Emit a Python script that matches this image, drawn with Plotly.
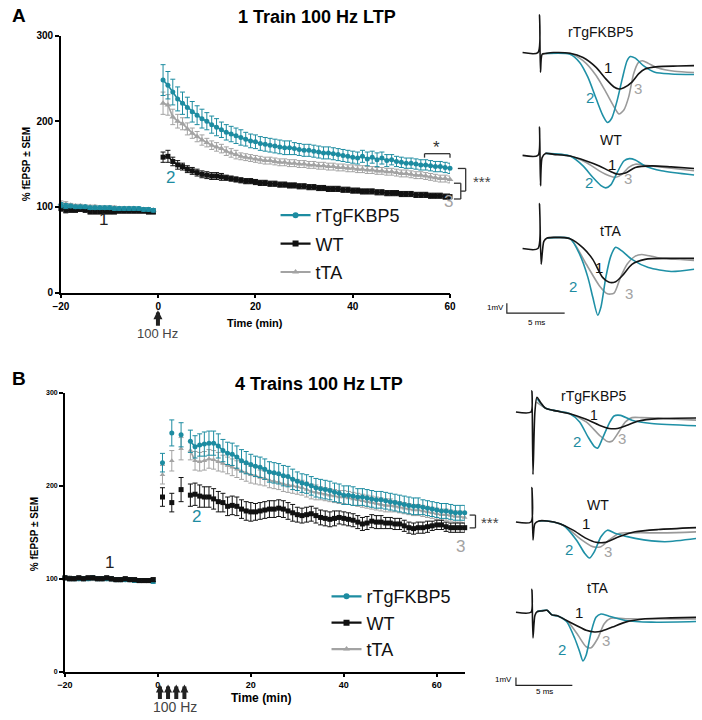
import plotly.graph_objects as go

W, H = 702, 720
def px(x): return x / W
def py(y): return 1 - y / H

TEAL = '#1d8ca1'
GREY = '#a3a3a3'
BLACK = '#111111'
FONT = 'Liberation Sans, Arial, sans-serif'

# ---------------- Panel A: 1 train 100 Hz LTP (time course) ----------------
a_base_t = list(range(-20, 0))
a_base_rtg = [102,101,101,100,100,100,99,99,99,99,99,98,98,98,98,98,98,97,97,96]
a_base_wt  = [98,96,96,96,97,96,94,94,94,94,94,94,95,95,95,95,95,95,94,94]
a_base_tta = [104,103,102,101,101,100,100,100,99,99,99,99,98,98,98,98,97,97,97,96]
a_base_err = [3,3,2,2,2,2,2,2,2,2,2,2,2,2,2,2,2,2,2,2]

a_post_t = list(range(1, 61))
a_post_rtg = [248,242,234,226,221,216,211,207,203,200,
              196,193,190,187,185,183,181,179,177,176,
              174,173,172,171,170,169,169,168,167,166,
              166,165,164,163,163,162,161,160,159,158,
              157,159,156,158,155,157,154,155,153,152,
              151,151,150,149,149,148,147,147,146,145]
a_post_rtg_err = [18,16,15,14,13,12,12,11,11,10,
                  10,10,9,9,9,9,9,8,8,8,
                  8,8,8,8,8,8,8,7,7,7,
                  7,7,7,7,7,7,7,7,7,7,
                  7,7,8,7,8,7,7,6,6,6,
                  6,6,6,6,6,6,6,6,6,6]
a_post_tta = [221,219,205,200,197,191,186,182,178,175,
              172,170,168,165,163,161,159,158,157,156,
              155,154,154,153,152,152,151,151,150,150,
              149,149,148,148,147,147,146,146,145,145,
              144,144,143,143,142,142,141,141,140,139,
              139,138,137,137,136,135,134,133,133,132]
a_post_tta_err = [13,12,9,8,7,7,6,6,6,5,
                  5,5,5,5,5,5,4,4,4,4,
                  4,4,4,4,4,4,4,4,4,4,
                  4,4,4,4,4,4,4,4,4,4,
                  4,4,4,4,4,4,4,4,4,4,
                  4,4,4,4,4,4,4,4,4,4]
a_post_wt = [158,159,153,149,147,144,142,140,138,137,
             136,136,135,134,133,132,131,130,130,129,
             128,128,127,127,126,126,125,125,124,124,
             123,123,122,122,121,121,121,120,120,119,
             119,118,118,118,117,117,116,116,116,115,
             115,115,114,114,114,113,113,113,112,112]
a_post_wt_err = [6,7,5,5,4,4,4,4,4,4,
                 4,4,4,3,3,3,3,3,3,3,
                 3,3,3,3,3,3,3,3,3,3,
                 3,3,3,3,3,3,3,3,3,3,
                 3,3,3,3,3,3,3,3,3,3,
                 3,3,3,3,3,3,3,3,3,3]

# ---------------- Panel B: 4 trains 100 Hz LTP (time course) ----------------
b_base_t = list(range(-20, 0))
b_base_rtg = [101,100,100,100,100,100,101,100,100,100,100,99,99,99,99,98,98,98,98,97]
b_base_wt  = [101,100,100,101,100,101,101,100,100,101,100,99,99,100,99,99,98,98,98,99]
b_base_tta = [101,101,100,100,100,100,100,100,100,100,99,99,99,99,99,98,98,98,98,98]
b_base_err = [2,2,2,2,2,2,2,2,2,2,2,2,2,2,2,2,2,2,2,2]

b_early_t = [1, 3, 5]
b_early_rtg = [225, 257, 255]
b_early_rtg_err = [10, 14, 13]
b_early_wt = [188, 182, 196]
b_early_wt_err = [10, 10, 13]
b_early_tta = [212, 227, 240]
b_early_tta_err = [10, 11, 12]

b_post_t = list(range(7, 67))
b_post_rtg = [248,242,244,245,246,246,243,238,235,234,
              231,227,225,223,221,220,218,215,214,213,
              211,210,207,205,203,202,200,198,197,196,
              195,193,192,190,190,189,188,188,187,186,
              185,185,184,183,182,181,180,179,178,178,
              177,176,175,174,173,173,172,171,171,171]
b_post_rtg_err = [12,12,12,13,13,13,13,12,12,12,
                  12,12,12,11,11,11,11,11,11,11,
                  11,11,11,10,10,10,10,10,10,10,
                  10,10,10,10,10,10,9,9,9,9,
                  9,9,9,9,9,9,9,9,9,9,
                  8,8,8,8,8,8,8,8,8,8]
b_post_tta = [238,227,226,227,229,228,226,224,222,220,
              218,216,214,212,211,209,208,206,205,204,
              202,201,200,199,198,196,194,193,192,191,
              190,189,188,188,187,186,185,184,183,182,
              181,180,179,179,178,177,176,175,174,174,
              173,172,171,170,169,169,168,167,167,166]
b_post_tta_err = [10,10,10,10,10,10,10,9,9,9,
                  9,9,9,9,9,8,8,8,8,8,
                  8,8,8,8,8,8,8,8,7,7,
                  7,7,7,7,7,7,7,7,7,7,
                  7,7,7,7,6,6,6,6,6,6,
                  6,6,6,6,6,6,6,6,6,6]
b_post_wt = [190,191,189,188,188,186,183,182,178,179,
             178,175,173,172,172,173,174,175,175,176,
             175,173,171,169,168,169,170,168,166,165,
             164,165,166,165,164,163,161,159,160,162,
             161,161,160,160,159,159,157,155,154,155,
             155,156,157,158,158,156,155,155,155,155]
b_post_wt_err = [12,12,12,11,11,11,11,10,10,10,
                 10,10,10,10,9,9,9,9,9,9,
                 9,9,9,8,8,8,8,8,8,8,
                 8,8,7,7,7,7,7,7,7,7,
                 7,7,6,6,6,6,6,6,6,6,
                 6,6,5,5,5,5,5,5,5,5]

# ---------------- Example fEPSP traces (ms, mV) ----------------
# Panel A
wA_rtg_1_t = [0,1.33,1.47,1.55,1.69,1.98,2.68,4.10,5.23,6.36,7.20,7.91,8.33,8.76,9.46,10.03,10.59,11.72,13.42,14.83]
wA_rtg_1_v = [0,0,3.83,-2.0,-0.17,-0.1,0,-0.07,-0.5,-1.5,-2.67,-3.5,-3.7,-3.57,-3.0,-2.17,-1.67,-1.43,-1.37,-1.33]
wA_rtg_2_t = [1.98,4.10,4.94,5.65,6.36,6.92,7.34,7.71,8.19,8.62,9.04,9.32,9.75,10.45,11.44,12.85,14.83]
wA_rtg_2_v = [-0.1,-0.17,-1.0,-2.5,-4.67,-6.33,-7.1,-6.67,-4.83,-2.67,-0.83,-0.4,-0.57,-1.33,-2.0,-2.17,-2.23]
wA_rtg_3_t = [1.98,4.10,5.23,6.36,7.20,7.91,8.33,8.76,9.18,9.60,10.03,10.37,10.88,11.72,13.14,14.83]
wA_rtg_3_v = [-0.1,-0.1,-0.83,-2.33,-4.0,-5.5,-6.23,-5.83,-4.5,-2.17,-1.0,-0.83,-1.1,-1.57,-1.9,-2.03]

wA_wt_1_t = [0,1.33,1.47,1.55,1.69,1.98,2.68,4.10,5.51,6.64,7.49,8.19,8.90,9.75,11.16,12.85,14.83]
wA_wt_1_v = [0,0,2.87,-3.07,-0.23,0.2,0.1,-0.07,-0.57,-1.07,-1.57,-1.9,-1.8,-1.23,-1.07,-1.17,-1.33]
wA_wt_2_t = [1.98,4.10,5.23,6.07,6.78,7.20,7.63,8.19,8.76,9.24,9.75,10.59,12.01,14.83]
wA_wt_2_v = [0.2,-0.07,-1.07,-2.23,-3.07,-3.3,-3.0,-1.73,-0.57,-0.33,-0.47,-1.07,-1.57,-2.0]
wA_wt_3_t = [1.98,4.10,5.51,6.64,7.49,8.05,8.62,9.18,9.75,10.59,12.29,14.83]
wA_wt_3_v = [0.2,-0.07,-0.73,-1.57,-2.07,-2.23,-1.9,-1.23,-0.9,-1.0,-1.23,-1.57]

wA_tta_1_t = [0,1.33,1.47,1.61,1.84,2.12,2.68,4.10,5.23,6.07,6.92,7.49,8.05,8.62,9.46,10.59,12.85,14.83]
wA_tta_1_v = [0,0,4.57,-1.6,0.73,1.07,1.13,1.0,0.07,-1.1,-2.93,-3.43,-3.37,-2.77,-1.6,-1.1,-1.0,-1.0]
wA_tta_2_t = [2.12,4.10,4.94,5.65,6.07,6.50,6.78,7.20,7.63,8.05,8.62,9.46,10.88,12.85,14.83]
wA_tta_2_v = [1.07,1.0,-0.6,-2.93,-4.93,-6.77,-5.93,-2.93,-0.77,0.13,-0.27,-1.1,-1.93,-2.33,-2.1]
wA_tta_3_t = [2.12,4.10,5.51,6.64,7.34,7.91,8.47,9.04,9.75,10.31,11.72,14.83]
wA_tta_3_v = [1.07,1.0,-1.6,-3.77,-4.6,-4.53,-2.93,-1.6,-0.77,-0.6,-0.93,-1.2]

# Panel B
wB_rtg_1_t = [0,1.33,1.42,1.51,1.68,1.86,2.17,2.61,3.33,4.78,6.23,7.39,8.26,8.99,9.86,10.87,12.61,16.09]
wB_rtg_1_v = [0,0,2.71,-7.92,0,1.88,1.25,0.5,0.21,-0.21,-0.92,-1.67,-2.08,-2.08,-1.67,-1.13,-0.83,-0.75]
wB_rtg_2_t = [1.88,2.61,3.33,4.78,5.65,6.38,6.96,7.25,7.68,8.26,8.70,9.28,10.29,12.03,16.09]
wB_rtg_2_v = [1.67,0.5,0.21,-0.21,-1.25,-3.13,-4.38,-4.58,-3.33,-1.46,-0.5,-0.42,-1.04,-1.46,-1.75]
wB_rtg_3_t = [1.83,2.61,3.33,4.78,6.23,7.39,8.12,8.55,9.13,9.71,10.29,11.16,13.19,16.09]
wB_rtg_3_v = [1.25,0.5,0.21,-0.21,-1.25,-2.92,-3.75,-3.67,-2.5,-1.25,-0.71,-0.71,-0.83,-1.04]

wB_wt_1_t = [0,1.33,1.42,1.51,1.68,2.03,2.75,3.91,5.07,6.23,7.10,7.97,9.13,10.58,12.61,16.09]
wB_wt_1_v = [0,0,4.38,-2.29,-0.21,0.13,0.13,-0.21,-1.04,-2.08,-2.58,-2.58,-1.88,-1.25,-0.96,-0.71]
wB_wt_2_t = [2.03,2.75,4.20,5.36,6.09,6.52,6.96,7.54,8.12,8.84,10.58,13.19,16.09]
wB_wt_2_v = [0.13,0.13,-0.42,-2.29,-3.96,-4.58,-3.75,-1.88,-1.04,-1.46,-2.08,-2.5,-2.08]
wB_wt_3_t = [2.03,2.75,4.20,5.65,6.81,7.54,8.26,9.13,10.58,13.19,16.09]
wB_wt_3_v = [0.13,0.13,-0.42,-2.08,-3.13,-3.13,-2.29,-1.46,-1.38,-1.38,-1.25]

wB_tta_1_t = [0,1.33,1.42,1.51,1.68,1.88,2.32,2.75,3.19,3.62,4.49,5.36,6.23,6.96,7.54,8.55,9.71,11.45,13.77,16.09]
wB_tta_1_v = [0,0,2.92,-3.25,-0.42,0.08,0.17,0.25,-0.33,-0.42,-1.04,-1.67,-2.29,-2.5,-2.42,-1.88,-1.25,-0.83,-0.71,-0.63]
wB_tta_2_t = [1.88,2.75,3.19,3.77,4.49,5.22,5.65,5.94,6.23,6.67,7.10,7.54,8.26,9.71,12.03,16.09]
wB_tta_2_v = [0.08,0.25,-0.33,-0.5,-1.17,-3.33,-5.0,-6.17,-5.42,-2.5,-0.63,-0.21,-0.5,-1.04,-1.25,-1.17]
wB_tta_3_t = [1.88,2.75,3.19,3.77,4.64,5.51,6.23,6.67,7.25,7.83,8.41,9.71,16.09]
wB_tta_3_v = [0.08,0.25,-0.33,-0.5,-1.25,-2.92,-4.38,-4.5,-3.33,-1.46,-0.75,-0.83,-0.83]

fig = go.Figure()

def join(a, b):
    return list(a) + [None] + list(b)

def ts(xa, ya, x, y, err, color, symbol, size, mode='lines+markers'):
    fig.add_trace(go.Scatter(
        x=x, y=y, mode=mode, xaxis=xa, yaxis=ya, cliponaxis=False,
        line=dict(color=color, width=1.6),
        marker=dict(color=color, symbol=symbol, size=size, line=dict(width=0)),
        error_y=dict(type='data', array=err, color=color, thickness=1, width=2.5),
        showlegend=False, hoverinfo='x+y'))

# Panel A series (grey, black, teal on top)
ts('x', 'y', join(a_base_t, a_post_t), join(a_base_tta, a_post_tta), join(a_base_err, a_post_tta_err), GREY, 'triangle-up', 6)
ts('x', 'y', join(a_base_t, a_post_t), join(a_base_wt, a_post_wt), join(a_base_err, a_post_wt_err), BLACK, 'square', 5)
ts('x', 'y', join(a_base_t, a_post_t), join(a_base_rtg, a_post_rtg), join(a_base_err, a_post_rtg_err), TEAL, 'circle', 5)

# Panel B series
ts('x2', 'y2', join(b_base_t, b_post_t), join(b_base_tta, b_post_tta), join(b_base_err, b_post_tta_err), GREY, 'triangle-up', 5)
ts('x2', 'y2', b_early_t, b_early_tta, b_early_tta_err, GREY, 'triangle-up', 5, mode='markers')
ts('x2', 'y2', join(b_base_t, b_post_t), join(b_base_rtg, b_post_rtg), join(b_base_err, b_post_rtg_err), TEAL, 'circle', 5)
ts('x2', 'y2', b_early_t, b_early_rtg, b_early_rtg_err, TEAL, 'circle', 5, mode='markers')
ts('x2', 'y2', join(b_base_t, b_post_t), join(b_base_wt, b_post_wt), join(b_base_err, b_post_wt_err), BLACK, 'square', 5)
ts('x2', 'y2', b_early_t, b_early_wt, b_early_wt_err, BLACK, 'square', 5, mode='markers')

# Legends (legend-only entries)
for lg in ['legend', 'legend2']:
    for name, color, sym in [('rTgFKBP5', TEAL, 'circle'), ('WT', BLACK, 'square'), ('tTA', GREY, 'triangle-up')]:
        fig.add_trace(go.Scatter(x=[None], y=[None], mode='lines+markers', name=name,
                                 line=dict(color=color, width=2.2),
                                 marker=dict(color=color, symbol=sym, size=6),
                                 legend=lg, legendgroup=lg + name, showlegend=True,
                                 xaxis='x' if lg == 'legend' else 'x2',
                                 yaxis='y' if lg == 'legend' else 'y2'))

# Waveform traces
def wf(xa, ya, t, v, color):
    fig.add_trace(go.Scatter(x=t, y=v, mode='lines', xaxis=xa, yaxis=ya,
                             line=dict(color=color, width=1.6, shape='spline', smoothing=0.7),
                             showlegend=False, hoverinfo='skip'))

wave_sets = [
    ('x3', 'y3', wA_rtg_1_t, wA_rtg_1_v, wA_rtg_2_t, wA_rtg_2_v, wA_rtg_3_t, wA_rtg_3_v),
    ('x4', 'y4', wA_wt_1_t, wA_wt_1_v, wA_wt_2_t, wA_wt_2_v, wA_wt_3_t, wA_wt_3_v),
    ('x5', 'y5', wA_tta_1_t, wA_tta_1_v, wA_tta_2_t, wA_tta_2_v, wA_tta_3_t, wA_tta_3_v),
    ('x6', 'y6', wB_rtg_1_t, wB_rtg_1_v, wB_rtg_2_t, wB_rtg_2_v, wB_rtg_3_t, wB_rtg_3_v),
    ('x7', 'y7', wB_wt_1_t, wB_wt_1_v, wB_wt_2_t, wB_wt_2_v, wB_wt_3_t, wB_wt_3_v),
    ('x8', 'y8', wB_tta_1_t, wB_tta_1_v, wB_tta_2_t, wB_tta_2_v, wB_tta_3_t, wB_tta_3_v),
]
for xa, ya, t1, v1, t2, v2, t3, v3 in wave_sets:
    wf(xa, ya, t3, v3, '#9a9a9a')
    wf(xa, ya, t2, v2, '#1f90a6')
    wf(xa, ya, t1, v1, '#151515')

tickfont_a = dict(family=FONT, size=10, color='black', weight='bold')
tickfont_bx = dict(family=FONT, size=9, color='black', weight='bold')
tickfont_by = dict(family=FONT, size=7, color='black', weight='bold')
axis_common = dict(showline=True, linecolor='black', linewidth=1.5, ticks='outside', ticklen=4,
                   tickwidth=1.5, tickcolor='black', showgrid=False, zeroline=False)
hidden = dict(visible=False, showgrid=False, zeroline=False, fixedrange=True)

layout = dict(
    width=W, height=H, margin=dict(l=0, r=0, t=0, b=0, pad=0), autosize=False,
    paper_bgcolor='white', plot_bgcolor='rgba(0,0,0,0)',
    font=dict(family=FONT, color='black'),
    xaxis=dict(domain=[px(54), px(451)], range=[-20, 60], tickvals=[-20, 0, 20, 40, 60],
               tickfont=tickfont_a, anchor='y', **axis_common),
    yaxis=dict(domain=[py(292), py(31)], range=[0, 300], tickvals=[0, 100, 200, 300],
               tickfont=tickfont_a, anchor='x', **axis_common),
    xaxis2=dict(domain=[px(58), px(466)], range=[-20, 66], tickvals=[-20, 0, 20, 40, 60],
                tickfont=tickfont_bx, anchor='y2', **axis_common),
    yaxis2=dict(domain=[py(677), py(394)], range=[0, 300], tickvals=[0, 100, 200, 300],
                tickfont=tickfont_by, anchor='x2', **axis_common),
    xaxis3=dict(domain=[px(490), px(702)], range=[-2.97, 15.0], anchor='y3', **hidden),
    yaxis3=dict(domain=[py(125), py(5)], range=[-7.67, 4.33], anchor='x3', **hidden),
    xaxis4=dict(domain=[px(490), px(702)], range=[-2.97, 15.0], anchor='y4', **hidden),
    yaxis4=dict(domain=[py(200), py(120)], range=[-4.73, 3.27], anchor='x4', **hidden),
    xaxis5=dict(domain=[px(490), px(702)], range=[-2.97, 15.0], anchor='y5', **hidden),
    yaxis5=dict(domain=[py(330), py(195)], range=[-8.27, 5.23], anchor='x5', **hidden),
    xaxis6=dict(domain=[px(500), px(702)], range=[-1.59, 15.97], anchor='y6', **hidden),
    yaxis6=dict(domain=[py(480), py(380)], range=[-8.33, 4.17], anchor='x6', **hidden),
    xaxis7=dict(domain=[px(500), px(702)], range=[-1.59, 15.97], anchor='y7', **hidden),
    yaxis7=dict(domain=[py(570), py(480)], range=[-5.625, 5.625], anchor='x7', **hidden),
    xaxis8=dict(domain=[px(500), px(702)], range=[-1.59, 15.97], anchor='y8', **hidden),
    yaxis8=dict(domain=[py(705), py(570)], range=[-11.04, 5.84], anchor='x8', **hidden),
    legend=dict(x=px(273), y=py(195), xanchor='left', yanchor='top', bgcolor='rgba(0,0,0,0)',
                font=dict(family=FONT, size=18, color='#111'), tracegroupgap=2, itemwidth=30),
    legend2=dict(x=px(325), y=py(582), xanchor='left', yanchor='top', bgcolor='rgba(0,0,0,0)',
                 font=dict(family=FONT, size=18, color='#111'), tracegroupgap=0, itemwidth=30),
)
fig.update_layout(**layout)

ann = []
def text(x, y, s, size, color='black', bold=False, angle=0, xanchor='center', yanchor='middle'):
    ann.append(dict(x=px(x), y=py(y), xref='paper', yref='paper', text=s, showarrow=False,
                    font=dict(family=FONT, size=size, color=color, weight='bold' if bold else 'normal'),
                    textangle=angle, xanchor=xanchor, yanchor=yanchor))

# Panel letters and titles
text(11, 11, 'A', 19, bold=True)
text(11, 379, 'B', 19, bold=True)
text(315, 12, '1 Train 100 Hz LTP', 18, bold=True)
text(317, 385, '4 Trains 100 Hz LTP', 18, bold=True)
# Axis titles
text(19, 162, '% fEPSP ± SEM', 10, bold=True, angle=-90)
text(27, 537, '% fEPSP ± SEM', 10, bold=True, angle=-90)
text(252, 323, 'Time (min)', 11, bold=True)
text(258, 704, 'Time (min)', 12, bold=True)
# Time-point labels on plots
text(97, 218, '1', 17, color='#222')
text(166, 175, '2', 17, color=TEAL)
text(449, 200, '3', 17, color=GREY)
text(104, 566, '1', 17, color='#222')
text(192, 519, '2', 17, color=TEAL)
text(462, 550, '3', 17, color=GREY)
# significance
text(437, 145, '*', 17, color='#333')
text(484, 179, '***', 15, color='#444')
text(492, 526, '***', 15, color='#444')
# 100 Hz stimulation arrows
text(153, 334, '100 Hz', 13, color='#444')
text(170, 713, '100 Hz', 14, color='#444')
for xx in [153]:
    ann.append(dict(x=px(xx), y=py(310), xref='paper', yref='paper', ax=0, ay=17, text='',
                    showarrow=True, arrowhead=2, arrowsize=0.45, arrowwidth=4, arrowcolor='#222'))
for xx in [155, 163.3, 171.7, 180]:
    ann.append(dict(x=px(xx), y=py(690), xref='paper', yref='paper', ax=0, ay=16, text='',
                    showarrow=True, arrowhead=2, arrowsize=0.4, arrowwidth=4, arrowcolor='#222'))

# Waveform labels
text(605, 27, 'rTgFKBP5', 14, color='#111')
text(612, 63, '1', 15, color='#111')
text(594, 94, '2', 15, color=TEAL)
text(643, 85, '3', 15, color=GREY)
text(615, 137, 'WT', 14, color='#111')
text(616, 162, '1', 15, color='#111')
text(593, 180, '2', 15, color=TEAL)
text(633, 176, '3', 15, color=GREY)
text(615, 229, 'tTA', 14, color='#111')
text(603, 267, '1', 15, color='#111')
text(576, 286, '2', 15, color=TEAL)
text(634, 293, '3', 15, color=GREY)
text(598, 397, 'rTgFKBP5', 14, color='#111')
text(598, 416, '1', 14, color='#111')
text(581, 443, '2', 15, color=TEAL)
text(627, 440, '3', 15, color=GREY)
text(602, 508, 'WT', 14, color='#111')
text(590, 527, '1', 15, color='#111')
text(572, 553, '2', 15, color=TEAL)
text(612, 555, '3', 15, color=GREY)
text(602, 592, 'tTA', 14, color='#111')
text(583, 617, '1', 15, color='#111')
text(565, 655, '2', 15, color=TEAL)
text(610, 645, '3', 15, color=GREY)
# scale bar labels
text(508, 307, '1mV', 8, xanchor='right')
text(539, 322, '5 ms', 8)
text(516, 685, '1mV', 8, xanchor='right')
text(547, 697, '5 ms', 8)
fig.update_layout(annotations=ann)

shapes = []
def seg(x0, y0, x1, y1, color='#333', w=1.3):
    shapes.append(dict(type='line', xref='paper', yref='paper', x0=px(x0), y0=py(y0), x1=px(x1), y1=py(y1),
                       line=dict(color=color, width=w)))
# '*' bracket
seg(425, 151, 451, 151); seg(425, 151, 425, 155); seg(451, 151, 451, 155)
# *** brackets panel A
seg(459, 166, 467, 166); seg(467, 166, 467, 189); seg(462, 189, 467, 189)
seg(455, 181, 462, 181); seg(462, 181, 462, 197); seg(455, 197, 462, 197)
# *** bracket panel B
seg(471, 518, 477, 518); seg(477, 518, 477, 531); seg(471, 531, 477, 531)
# scale bars (data coords of waveform axes)
shapes.append(dict(type='path', xref='x5', yref='y5', path='M -1.36 -5.57 L -1.36 -6.57 L 3.64 -6.57',
                   line=dict(color='#222', width=1.2)))
shapes.append(dict(type='path', xref='x8', yref='y8', path='M 0 -8.29 L 0 -9.29 L 5 -9.29',
                   line=dict(color='#222', width=1.2)))
fig.update_layout(shapes=shapes)

fig.write_html('out.html', config={'displayModeBar': False},
               post_script="document.body.style.margin='0';document.body.style.padding='0';document.body.style.overflow='hidden';")
